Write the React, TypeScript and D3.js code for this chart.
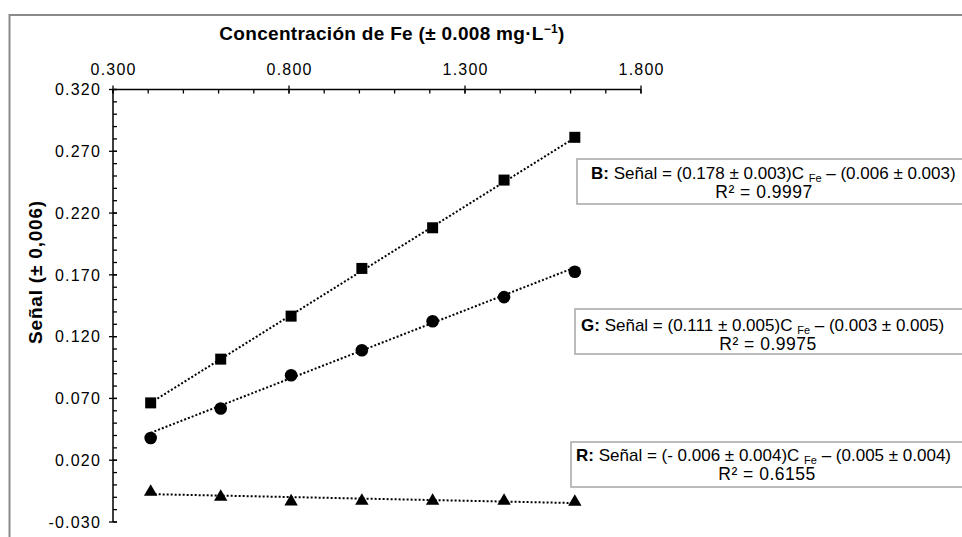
import React from "react";
import * as d3 from "d3";

// Iron concentration (mg/L) of the calibration standards
const concentrations = [0.407, 0.606, 0.806, 1.007, 1.208, 1.411, 1.612];

// Measured signal per colour channel
const signalB = [0.0664, 0.1018, 0.1366, 0.1752, 0.2081, 0.2467, 0.2813];
const signalG = [0.038, 0.0618, 0.0888, 0.109, 0.1325, 0.152, 0.1725];
const signalR = [-0.0057, -0.0097, -0.0135, -0.013, -0.013, -0.013, -0.0138];

// Fitted calibration lines: Señal = slope·C_Fe + intercept
const fitSlopes = [0.178, 0.111, -0.006];
const fitIntercepts = [-0.006, -0.003, -0.005];
const fitLabels = ["B", "G", "R"];
const slopeText = ["(0.178 ± 0.003)", "(0.111 ± 0.005)", "(- 0.006 ± 0.004)"];
const interceptText = ["(0.006 ± 0.003)", "(0.003 ± 0.005)", "(0.005 ± 0.004)"];
const r2Text = ["0.9997", "0.9975", "0.6155"];

const xMajorTicks = [0.3, 0.8, 1.3, 1.8];
const yMajorTicks = [0.32, 0.27, 0.22, 0.17, 0.12, 0.07, 0.02, -0.03];

const W = 962;
const H = 537;
const FONT = "'Liberation Sans', Arial, sans-serif";

const fmt = (v: number) => v.toFixed(3);

export default function App() {
  const x = d3.scaleLinear().domain([0.3, 1.8]).range([113, 641]);
  const y = d3.scaleLinear().domain([-0.03, 0.32]).range([522, 89.5]);

  const xMinor = d3.range(0.3, 1.8001, 0.1);
  const yMinor = d3.range(-0.03, 0.3201, 0.01);

  const series = [signalB, signalG, signalR];
  const markers = ["square", "circle", "triangle"];

  const fitLine = (i: number) => {
    const x0 = concentrations[0];
    const x1 = concentrations[concentrations.length - 1];
    const line = d3
      .line<number>()
      .x((c) => x(c))
      .y((c) => y(fitSlopes[i] * c + fitIntercepts[i]));
    return line([x0, x1]) || "";
  };

  const triangle = d3.symbol().type(d3.symbolTriangle).size(78)() || "";

  // Equation boxes: frame edges, first-line start and baselines, second-line center
  const boxes = [
    { left: 577, top: 159, bottom: 204, tx: 591, ty: 179, cx: 764, ty2: 198 },
    { left: 575, top: 309, bottom: 354, tx: 581, ty: 331, cx: 768, ty2: 350 },
    { left: 571, top: 442, bottom: 487, tx: 576, ty: 461, cx: 767, ty2: 480 },
  ];

  return (
    <svg
      width={W}
      height={H}
      style={{ position: "absolute", left: 0, top: 0, background: "#fff" }}
      fontFamily={FONT}
    >
      <rect x={0} y={0} width={W} height={H} fill="#fff" />
      {/* chart frame */}
      <rect x={9.5} y={15} width={W + 20} height={H + 20} fill="none" stroke="#8a8a8a" strokeWidth={2} />

      {/* axis title (top) */}
      <text x={392} y={40} textAnchor="middle" fontSize={19} fontWeight="bold" fill="#000" letterSpacing={0.3}>
        Concentración de Fe (± 0.008 mg·L
        <tspan fontSize={12} dy={-7}>−1</tspan>
        <tspan dy={7}>)</tspan>
      </text>

      {/* top x axis */}
      <line x1={x(0.3)} x2={x(1.8)} y1={y(0.32)} y2={y(0.32)} stroke="#000" strokeWidth={1.5} />
      {xMinor.map((v, i) => (
        <line key={"xm" + i} x1={x(v)} x2={x(v)} y1={y(0.32)} y2={y(0.32) + 4} stroke="#000" strokeWidth={1.3} />
      ))}
      {xMajorTicks.map((v) => (
        <g key={"xM" + v}>
          <line x1={x(v)} x2={x(v)} y1={y(0.32) - 4} y2={y(0.32) + 4} stroke="#000" strokeWidth={1.3} />
          <text x={x(v) + 0.6} y={75} textAnchor="middle" fontSize={16} letterSpacing={1.2} fill="#000">
            {fmt(v)}
          </text>
        </g>
      ))}

      {/* left y axis */}
      <line x1={x(0.3)} x2={x(0.3)} y1={y(0.32)} y2={y(-0.03)} stroke="#000" strokeWidth={1.5} />
      {yMinor.map((v, i) => (
        <line key={"ym" + i} x1={x(0.3)} x2={x(0.3) + 4} y1={y(v)} y2={y(v)} stroke="#000" strokeWidth={1.3} />
      ))}
      {yMajorTicks.map((v) => (
        <g key={"yM" + v}>
          <line x1={x(0.3) - 4} x2={x(0.3) + 4} y1={y(v)} y2={y(v)} stroke="#000" strokeWidth={1.3} />
          <text x={101} y={y(v)} dy="0.36em" textAnchor="end" fontSize={16} letterSpacing={1.2} fill="#000">
            {fmt(v)}
          </text>
        </g>
      ))}

      {/* y axis title */}
      <text
        transform={`translate(35,272) rotate(-90)`}
        textAnchor="middle"
        dy="0.35em"
        fontSize={19}
        fontWeight="bold"
        letterSpacing={0.8}
        fill="#000"
      >
        Señal (± 0,006)
      </text>

      {/* fitted lines */}
      {series.map((_, i) => (
        <path key={"fit" + i} d={fitLine(i)} fill="none" stroke="#000" strokeWidth={2} strokeDasharray="2 2" />
      ))}

      {/* data markers */}
      {series.map((vals, i) =>
        vals.map((v, j) => {
          const cx = x(concentrations[j]);
          const cy = y(v);
          if (markers[i] === "square")
            return <rect key={`m${i}-${j}`} x={cx - 5.5} y={cy - 5.5} width={11} height={11} fill="#000" />;
          if (markers[i] === "circle")
            return <circle key={`m${i}-${j}`} cx={cx} cy={cy} r={6.3} fill="#000" />;
          return <path key={`m${i}-${j}`} d={triangle} transform={`translate(${cx},${cy})`} fill="#000" />;
        })
      )}

      {/* equation boxes */}
      {boxes.map((b, i) => (
        <g key={"box" + i}>
          <rect
            x={b.left}
            y={b.top}
            width={W + 10 - b.left}
            height={b.bottom - b.top}
            fill="#fff"
            stroke="#a6a6a6"
            strokeWidth={1.5}
          />
          <text x={b.tx} y={b.ty} fontSize={17} fill="#000">
            <tspan fontWeight="bold">{fitLabels[i]}:</tspan>
            {` Señal = ${slopeText[i]}C `}
            <tspan fontSize={11} dy={2.5}>Fe</tspan>
            <tspan dy={-2.5}>{` – ${interceptText[i]}`}</tspan>
          </text>
          <text x={b.cx} y={b.ty2} textAnchor="middle" fontSize={17.5} letterSpacing={0.5} fill="#000">
            {`R² = ${r2Text[i]}`}
          </text>
        </g>
      ))}
    </svg>
  );
}
